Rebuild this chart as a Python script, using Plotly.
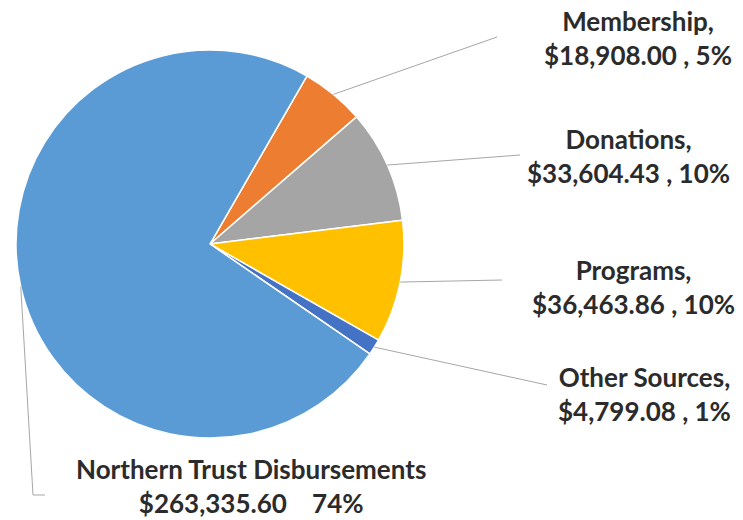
import math
import plotly.graph_objects as go

# ---- data ----
categories = ["Membership", "Donations", "Programs", "Other Sources", "Northern Trust Disbursements"]
values = [18908.00, 33604.43, 36463.86, 4799.08, 263335.60]
pct_labels = [5, 10, 10, 1, 74]
colors = ["#ED7D31", "#A5A5A5", "#FFC000", "#4472C4", "#5B9BD5"]

W, H = 743, 520
CX, CY, R = 210, 244, 194          # pie centre / radius in px
ROT = 30                            # degrees clockwise from 12 o'clock

# label placement (px): centre of text block, leader-line end points
label_pos = [(638, 38), (628, 156), (633, 287), (644, 394), (251, 486)]
line_ends = [[(497, 37)], [(520, 155)], [(502, 280)], [(547, 385)], [(33, 495), (45, 495)]]


def px(x):
    return x / W


def py(y):
    return 1 - y / H


fig = go.Figure()
fig.add_trace(go.Pie(
    labels=categories,
    values=values,
    sort=False,
    direction="clockwise",
    rotation=ROT,
    marker=dict(colors=colors, line=dict(color="white", width=1.5)),
    textinfo="none",
    hoverinfo="label+value+percent",
    showlegend=False,
    domain=dict(x=[px(CX - R), px(CX + R)], y=[py(CY + R), py(CY - R)]),
))

total = sum(values)
cum = 0.0
shapes = []
annotations = []
for i, (name, v) in enumerate(zip(categories, values)):
    mid = ROT + (cum + v / 2) / total * 360
    cum += v
    a = math.radians(mid)
    sx = CX + R * math.sin(a)
    sy = CY - R * math.cos(a)
    pts = [(sx, sy)] + line_ends[i]
    for (x0, y0), (x1, y1) in zip(pts[:-1], pts[1:]):
        shapes.append(dict(type="line", xref="paper", yref="paper",
                           x0=px(x0), y0=py(y0), x1=px(x1), y1=py(y1),
                           line=dict(color="#A6A6A6", width=1)))
    if i == len(categories) - 1:
        l1 = name
        l2 = f"${v:,.2f}\u00a0\u00a0\u00a0\u00a0{pct_labels[i]}%"
    else:
        l1 = name + ","
        l2 = f"${v:,.2f} , {pct_labels[i]}%"
    lx, ly = label_pos[i]
    annotations.append(dict(text=f"<b>{l1}</b><br><b>{l2}</b>",
                            x=px(lx), y=py(ly), xref="paper", yref="paper",
                            xanchor="center", yanchor="middle", align="center",
                            showarrow=False,
                            font=dict(family="Lato", size=26, color="#2b2b2b")))

fig.update_layout(
    width=W, height=H,
    margin=dict(l=0, r=0, t=0, b=0),
    paper_bgcolor="white",
    plot_bgcolor="white",
    shapes=shapes,
    annotations=annotations,
    font=dict(family="Lato"),
)

fig.write_html("out.html", config={"displayModeBar": False},
               post_script="document.body.style.margin='0';")
